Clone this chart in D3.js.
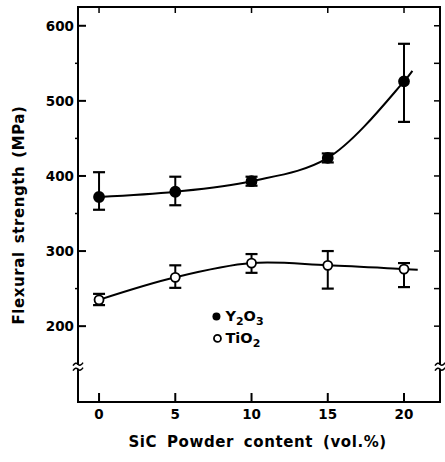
<!DOCTYPE html>
<html>
<head>
<meta charset="utf-8">
<script src="https://cdn.jsdelivr.net/npm/d3@7"></script>
<style>
  body { margin: 0; background: #fff; }
  .tick-label { font-family: "DejaVu Sans", sans-serif; font-weight: bold; font-size: 13.5px; fill: #000; }
  .axis-title { font-family: "DejaVu Sans", sans-serif; font-weight: bold; font-size: 15px; fill: #000; }
  .legend-text { font-family: "DejaVu Sans", sans-serif; font-weight: bold; font-size: 14.5px; fill: #000; }
</style>
</head>
<body>
<div id="chart"></div>
<script>
// SiC powder content (vol.%)
var contents = [0, 5, 10, 15, 20];
var xTicks = [0, 5, 10, 15, 20];
var yTicks = [200, 300, 400, 500, 600];
var yMinorTicks = [250, 350, 450, 550];

// Flexural strength (MPa), Y2O3 additive
var y2o3Mean = [372, 379, 393, 424, 526];
var y2o3Low  = [355, 361, 387, 418, 472];
var y2o3High = [405, 399, 399, 430, 576];

// Flexural strength (MPa), TiO2 additive
var tio2Mean = [235, 265, 284, 281, 276];
var tio2Low  = [228, 251, 271, 250, 252];
var tio2High = [243, 281, 296, 300, 284];

var breakValue = 146;

var margin = { top: 7, right: 5, bottom: 60, left: 78 };
var width = 445 - margin.left - margin.right;
var height = 462 - margin.top - margin.bottom;

var svg = d3.select("#chart").append("svg")
    .attr("width", 445)
    .attr("height", 462)
    .append("g")
    .attr("transform", "translate(" + margin.left + "," + margin.top + ")");

var x = d3.scaleLinear().domain([-1.38, 22.36]).range([0, width]);
var y = d3.scaleLinear().domain([99, 625]).range([height, 0]);

// frame
svg.append("rect")
    .attr("width", width)
    .attr("height", height)
    .attr("fill", "none")
    .attr("stroke", "#000")
    .attr("stroke-width", 2);

// bottom ticks (inward) + labels
svg.selectAll(".xtick-b").data(xTicks).enter().append("line")
    .attr("x1", function(d){ return x(d); })
    .attr("x2", function(d){ return x(d); })
    .attr("y1", height)
    .attr("y2", height - 9)
    .attr("stroke", "#000").attr("stroke-width", 2);
svg.selectAll(".xtick-t").data(xTicks).enter().append("line")
    .attr("x1", function(d){ return x(d); })
    .attr("x2", function(d){ return x(d); })
    .attr("y1", 0)
    .attr("y2", 6)
    .attr("stroke", "#000").attr("stroke-width", 1.5);
svg.selectAll(".xlabel").data(xTicks).enter().append("text")
    .attr("class", "tick-label")
    .attr("x", function(d){ return x(d); })
    .attr("y", height + 17)
    .attr("text-anchor", "middle")
    .text(function(d){ return d; });

// left ticks
svg.selectAll(".ytick").data(yTicks).enter().append("line")
    .attr("x1", 0).attr("x2", 8)
    .attr("y1", function(d){ return y(d); })
    .attr("y2", function(d){ return y(d); })
    .attr("stroke", "#000").attr("stroke-width", 2);
svg.selectAll(".ytick-minor").data(yMinorTicks).enter().append("line")
    .attr("x1", -3).attr("x2", 0)
    .attr("y1", function(d){ return y(d); })
    .attr("y2", function(d){ return y(d); })
    .attr("stroke", "#000").attr("stroke-width", 1.5);
svg.selectAll(".ylabel").data(yTicks).enter().append("text")
    .attr("class", "tick-label")
    .attr("x", -4)
    .attr("y", function(d){ return y(d) + 5; })
    .attr("text-anchor", "end")
    .text(function(d){ return d; });

// right ticks (every 50)
svg.selectAll(".ytick-r").data(yTicks.concat(yMinorTicks)).enter().append("line")
    .attr("x1", width - 6).attr("x2", width)
    .attr("y1", function(d){ return y(d); })
    .attr("y2", function(d){ return y(d); })
    .attr("stroke", "#000").attr("stroke-width", 1.5);

// axis breaks
[0, width].forEach(function(xp){
    var g = svg.append("g").attr("transform", "translate(" + xp + "," + y(breakValue) + ")");
    g.append("rect").attr("x", -3).attr("y", -2).attr("width", 6).attr("height", 4).attr("fill", "#fff");
    g.append("path").attr("d", "M-5,-1 q2.5,-4 5,-1.5 t5,-1.5").attr("fill", "none").attr("stroke", "#000").attr("stroke-width", 1.5);
    g.append("path").attr("d", "M-5,4 q2.5,-4 5,-1.5 t5,-1.5").attr("fill", "none").attr("stroke", "#000").attr("stroke-width", 1.5);
});

// axis titles
svg.append("text")
    .attr("class", "axis-title")
    .attr("transform", "translate(" + (-54) + "," + (y(348)) + ") rotate(-90)")
    .attr("text-anchor", "middle")
    .attr("font-size", "16px")
    .attr("letter-spacing", "0.6px")
    .attr("word-spacing", "2px")
    .text("Flexural strength  (MPa)");
svg.append("text")
    .attr("class", "axis-title")
    .attr("x", x(10.4))
    .attr("y", height + 45)
    .attr("text-anchor", "middle")
    .attr("letter-spacing", "0.6px")
    .attr("word-spacing", "4px")
    .text("SiC Powder content (vol.%)");

// series
var series = [
    { mean: y2o3Mean, low: y2o3Low, high: y2o3High, filled: true, ext: 0.55 },
    { mean: tio2Mean, low: tio2Low, high: tio2High, filled: false, ext: 0.9 }
];

var line = d3.line()
    .x(function(d){ return x(d[0]); })
    .y(function(d){ return y(d[1]); })
    .curve(d3.curveCatmullRom.alpha(0.5));

series.forEach(function(s){
    var pts = contents.map(function(c, i){ return [c, s.mean[i]]; });
    var n = pts.length;
    // short run-out of the fitted curve past the last point
    var slope = (pts[n-1][1] - pts[n-2][1]) / (pts[n-1][0] - pts[n-2][0]);
    if (s.filled) slope = slope * 1.25;
    var extended = pts.concat([[pts[n-1][0] + s.ext, pts[n-1][1] + slope * s.ext]]);

    svg.append("path")
        .attr("d", line(extended))
        .attr("fill", "none")
        .attr("stroke", "#000")
        .attr("stroke-width", 2);

    var g = svg.append("g");
    contents.forEach(function(c, i){
        var cx = x(c);
        g.append("line")
            .attr("x1", cx).attr("x2", cx)
            .attr("y1", y(s.low[i])).attr("y2", y(s.high[i]))
            .attr("stroke", "#000").attr("stroke-width", 2);
        [s.low[i], s.high[i]].forEach(function(v){
            g.append("line")
                .attr("x1", cx - 6).attr("x2", cx + 6)
                .attr("y1", y(v)).attr("y2", y(v))
                .attr("stroke", "#000").attr("stroke-width", 2.2);
        });
        g.append("circle")
            .attr("cx", cx).attr("cy", y(s.mean[i]))
            .attr("r", s.filled ? 5 : 4.5)
            .attr("fill", s.filled ? "#000" : "#fff")
            .attr("stroke", "#000").attr("stroke-width", 1.8);
    });
});

// legend
var legend = svg.append("g").attr("transform", "translate(" + (x(7.7)) + "," + (y(213)) + ")");
legend.append("circle").attr("cx", 0).attr("cy", 0).attr("r", 4).attr("fill", "#000");
var t1 = legend.append("text").attr("class", "legend-text").attr("x", 9).attr("y", 5);
t1.append("tspan").text("Y");
t1.append("tspan").attr("dy", 4).attr("font-size", "11px").text("2");
t1.append("tspan").attr("dy", -4).text("O");
t1.append("tspan").attr("dy", 4).attr("font-size", "11px").text("3");
legend.append("circle").attr("cx", 1).attr("cy", 22).attr("r", 3.5).attr("fill", "#fff").attr("stroke", "#000").attr("stroke-width", 1.8);
var t2 = legend.append("text").attr("class", "legend-text").attr("x", 9).attr("y", 27);
t2.append("tspan").text("TiO");
t2.append("tspan").attr("dy", 4).attr("font-size", "11px").text("2");
</script>
</body>
</html>
